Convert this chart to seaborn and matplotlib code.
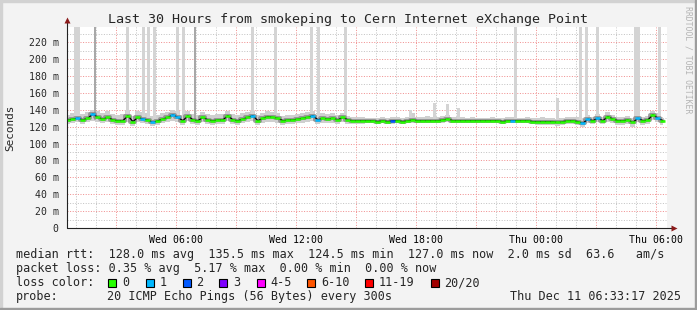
import numpy as np
import matplotlib
matplotlib.use("Agg")
import matplotlib.pyplot as plt
from matplotlib.patches import Rectangle
import seaborn as sns

# ---------------- data ----------------
title = "Last 30 Hours from smokeping to Cern Internet eXchange Point"
y_label = "Seconds"
watermark = "RRDTOOL / TOBI OETIKER"

# time axis in hours since Wed 00:00 (graph covers Wed 00:33 .. Thu 06:33)
x_start, x_end = 0.555, 30.555
sample_start, sample_step = 0.6, 0.25

median_ms = [
    128, 129, 130, 128, 130, 135, 131, 129, 131, 128, 127, 127, 133, 126, 131, 129, 128, 125, 127, 129,
    131, 134, 131, 127, 133, 128, 127, 131, 128, 127, 128, 128, 133, 128, 127, 129, 131, 133, 127, 130,
    132, 131, 130, 127, 128, 128, 129, 130, 131, 133, 128, 130, 129, 130, 128, 131, 128, 127, 127, 127,
    127, 127, 126, 127, 126, 127, 127, 126, 127, 128, 127, 127, 127, 127, 127, 128, 129, 127, 127, 127,
    127, 127, 127, 127, 127, 127, 127, 126, 127, 127, 127, 127, 127, 126, 126, 126, 126, 126, 125, 126,
    127, 127, 126, 124, 129, 127, 130, 127, 132, 129, 127, 127, 128, 125, 130, 127, 128, 134, 130, 127,
]
loss_count = [
    0, 0, 1, 0, 0, 1, 0, 0, 0, 0, 0, 0, 0, 0, 0, 1, 0, 1, 0, 0,
    0, 1, 1, 0, 0, 0, 0, 0, 0, 0, 0, 0, 0, 0, 0, 0, 0, 1, 0, 0,
    0, 0, 0, 0, 0, 0, 0, 0, 0, 1, 1, 0, 0, 0, 0, 0, 0, 0, 0, 0,
    0, 0, 0, 0, 0, 2, 0, 0, 0, 0, 0, 0, 0, 0, 0, 0, 0, 0, 0, 0,
    0, 0, 0, 0, 0, 0, 0, 0, 0, 1, 0, 0, 0, 0, 0, 0, 0, 0, 0, 0,
    0, 0, 0, 1, 1, 0, 1, 0, 0, 0, 0, 0, 0, 0, 1, 0, 0, 0, 1, 0,
]
smoke_hi = [
    134, 136, 137, 135, 137, 140, 138, 136, 138, 135, 134, 135, 140, 133, 138, 137, 136, 133, 134, 136,
    137, 140, 138, 134, 139, 135, 134, 137, 135, 134, 135, 135, 139, 135, 134, 136, 137, 139, 134, 136,
    138, 137, 136, 133, 134, 134, 135, 136, 137, 139, 134, 136, 135, 136, 134, 136, 133, 131, 131, 131,
    130, 130, 130, 131, 130, 131, 131, 130, 131, 136, 131, 131, 133, 132, 131, 133, 134, 131, 131, 131,
    130, 131, 130, 130, 130, 131, 130, 130, 131, 131, 130, 130, 131, 130, 130, 131, 130, 130, 129, 130,
    131, 132, 131, 129, 134, 132, 135, 132, 137, 134, 132, 132, 133, 130, 135, 132, 133, 139, 136, 132,
]
smoke_lo = [
    123, 124, 125, 123, 125, 127, 125, 124, 125, 123, 122, 122, 126, 121, 125, 124, 123, 121, 122, 124,
    125, 127, 125, 122, 127, 123, 122, 125, 123, 122, 123, 123, 127, 123, 122, 124, 125, 127, 122, 124,
    126, 125, 124, 122, 123, 123, 124, 124, 125, 127, 123, 124, 124, 124, 123, 125, 123, 123, 123, 123,
    124, 124, 123, 124, 123, 123, 124, 123, 124, 124, 124, 124, 124, 124, 124, 124, 125, 124, 124, 124,
    124, 124, 124, 124, 124, 124, 124, 123, 124, 124, 124, 124, 124, 123, 122, 122, 122, 122, 121, 122,
    123, 123, 122, 120, 124, 123, 125, 123, 126, 124, 122, 122, 123, 120, 125, 122, 123, 128, 125, 122,
]
# single slow pings reaching far above the median
spike_hours = [1.0, 1.15, 3.6, 4.4, 4.65, 4.95, 6.1, 6.4, 9.85, 11.0, 12.8, 13.15, 14.5,
               17.75, 18.95, 19.6, 20.15, 23.0, 25.1, 26.25, 26.55, 27.1, 29.0, 29.15, 30.2]
spike_top = [260, 260, 260, 260, 260, 260, 260, 260, 260, 260, 260, 260, 260,
             140, 148, 147, 142, 260, 154, 260, 260, 260, 260, 260, 260]
outlier_hours = [1.95, 6.95]
outlier_top = [260, 260]

x_tick_hours = [6, 12, 18, 24, 30]
x_tick_labels = ["Wed 06:00", "Wed 12:00", "Wed 18:00", "Thu 00:00", "Thu 06:00"]
y_ticks = list(range(0, 221, 20))
y_tick_labels = ["0"] + [f"{v} m" for v in y_ticks[1:]]

loss_labels = ["0", "1", "2", "3", "4-5", "6-10", "11-19", "20/20"]
loss_colors = ["#26ff00", "#00b8ff", "#0059ff", "#7e00ff", "#ff00ff", "#ff5500", "#ff0000", "#a10000"]
loss_bins = [0, 1, 2, 3, 5, 10, 19, 20]  # upper bound of each bin

stat_rows = [
    "median rtt:  128.0 ms avg  135.5 ms max  124.5 ms min  127.0 ms now  2.0 ms sd  63.6   am/s",
    "packet loss: 0.35 % avg  5.17 % max  0.00 % min  0.00 % now",
]
loss_row_label = "loss color:"
probe_label = "probe:"
probe_text = "20 ICMP Echo Pings (56 Bytes) every 300s"
date_text = "Thu Dec 11 06:33:17 2025"

# ---------------- drawing ----------------
sns.set_style("white")
plt.rcParams["font.family"] = ["DejaVu Sans Mono", "DejaVu Sans"]

W, H = 697, 310
fig = plt.figure(figsize=(W / 100, H / 100), dpi=100, facecolor="#f3f3f3")
L, R, T, B = 67, 667, 27, 228
ax = fig.add_axes([L / W, (H - B) / H, (R - L) / W, (B - T) / H])
ax.set_facecolor("white")

hours = sample_start + sample_step * np.arange(len(median_ms))
median = np.array(median_ms, float)


def loss_color(n):
    for ub, c in zip(loss_bins, loss_colors):
        if n <= ub:
            return c
    return loss_colors[-1]


# smoke
ax.fill_between(hours, smoke_lo, smoke_hi, step="mid", color="#cfcfcf", lw=0, zorder=2)
bars = ax.bar(spike_hours, np.array(spike_top) - 128, bottom=128, width=0.15, color="#d4d4d4",
              lw=0, zorder=2)
obars = ax.bar(outlier_hours, np.array(outlier_top) - 128, bottom=128, width=0.06, color="#a8a8a8",
               lw=0, zorder=2)
for p in list(bars) + list(obars):
    p.set_antialiased(False)
# dark fringe of the smoke around median
ax.plot(hours, median, drawstyle="steps-mid", color="#808080", lw=2.8, alpha=0.75, zorder=3)
# median line
sns.lineplot(x=hours, y=median, color="black", lw=0.9, ax=ax, zorder=4)
ax.hlines(median, hours - sample_step / 2, hours + sample_step / 2,
          colors=[loss_color(n) for n in loss_count], lw=1.8, zorder=5)

ax.set_xlim(x_start, x_end)
ax.set_ylim(0, 238)

# grid and ticks
maj_x = list(range(3, 31, 3))
ax.set_xticks(maj_x)
ax.set_xticklabels([x_tick_labels[x_tick_hours.index(h)] if h in x_tick_hours else "" for h in maj_x])
ax.set_xticks(list(range(1, 31)), minor=True)
ax.set_yticks(y_ticks)
ax.set_yticklabels(y_tick_labels)
ax.set_yticks(list(range(10, 240, 20)), minor=True)
ax.grid(which="major", color="#f09090", ls=(0, (1, 1.6)), lw=0.72)
ax.grid(which="minor", color="#c4c4c4", ls=(0, (1, 1.6)), lw=0.72)
for t in ax.xaxis.get_major_ticks() + ax.xaxis.get_minor_ticks() + \
        ax.yaxis.get_major_ticks() + ax.yaxis.get_minor_ticks():
    t.gridline.set_zorder(1.5)
ax.tick_params(axis="x", which="major", direction="inout", length=4, width=0.8,
               labelsize=7.1, pad=3, colors="#f08080", labelcolor="black")
ax.tick_params(axis="x", which="minor", direction="inout", length=3, width=0.8, color="#bbbbbb")
ax.tick_params(axis="y", which="major", direction="inout", length=4, width=0.8, color="#444444",
               labelsize=7.1, pad=4)
ax.tick_params(axis="y", which="minor", direction="inout", length=3, width=0.8, color="#888888")
for s in ax.spines.values():
    s.set_visible(False)

# axes with arrows
ax.plot([0, 0], [0, 1.03], transform=ax.transAxes, color="#222222", lw=0.8, clip_on=False, zorder=7)
ax.plot([0, 1.009], [0, 0], transform=ax.transAxes, color="#222222", lw=0.8, clip_on=False, zorder=7)
ax.plot([0], [1.035], transform=ax.transAxes, marker="^", ms=5, color="#8b1a1a", mec="none",
        clip_on=False, zorder=8)
ax.plot([1.011], [0], transform=ax.transAxes, marker=">", ms=5, color="#8b1a1a", mec="none",
        clip_on=False, zorder=8)

# texts
def ftext(x, y, s, **kw):
    fig.text(x / W, 1 - y / H, s, **kw)


ftext(348, 19, title, ha="center", va="center", fontsize=9.6)
ftext(10, 128, y_label, ha="center", va="center", rotation=90, fontsize=7.9)
ftext(688, 60, watermark, ha="center", va="center", rotation=270, fontsize=5.9, color="#b4b4b4")

ftext(16, 254.5, stat_rows[0], ha="left", va="center", fontsize=8.5)
ftext(16, 268.5, stat_rows[1], ha="left", va="center", fontsize=8.5)
ftext(16, 282.5, loss_row_label, ha="left", va="center", fontsize=8.5)
box_x = [108, 145.5, 182.5, 219, 256.5, 307, 365, 430.5]
for bx, lab, col in zip(box_x, loss_labels, loss_colors):
    fig.patches.append(Rectangle((bx / W, 1 - 286.5 / H), 8 / W, 8 / H, transform=fig.transFigure,
                                 facecolor=col, edgecolor="black", lw=0.8))
    ftext(bx + 14, 282.5, lab, ha="left", va="center", fontsize=8.5)
ftext(16, 296.5, probe_label, ha="left", va="center", fontsize=8.5)
ftext(107, 296.5, probe_text, ha="left", va="center", fontsize=8.5)
ftext(681, 296.5, date_text, ha="right", va="center", fontsize=8.5)

# canvas frame
fig.patches.append(Rectangle((0, 1 - 2 / H), 1, 2 / H, transform=fig.transFigure, color="#d2d2d2"))
fig.patches.append(Rectangle((0, 0), 2 / W, 1, transform=fig.transFigure, color="#d2d2d2"))
fig.patches.append(Rectangle((1 - 2 / W, 0), 2 / W, 1, transform=fig.transFigure, color="#9c9c9c"))
fig.patches.append(Rectangle((0, 0), 1, 2 / H, transform=fig.transFigure, color="#9c9c9c"))

fig.savefig("out.png", dpi=100, facecolor=fig.get_facecolor())
